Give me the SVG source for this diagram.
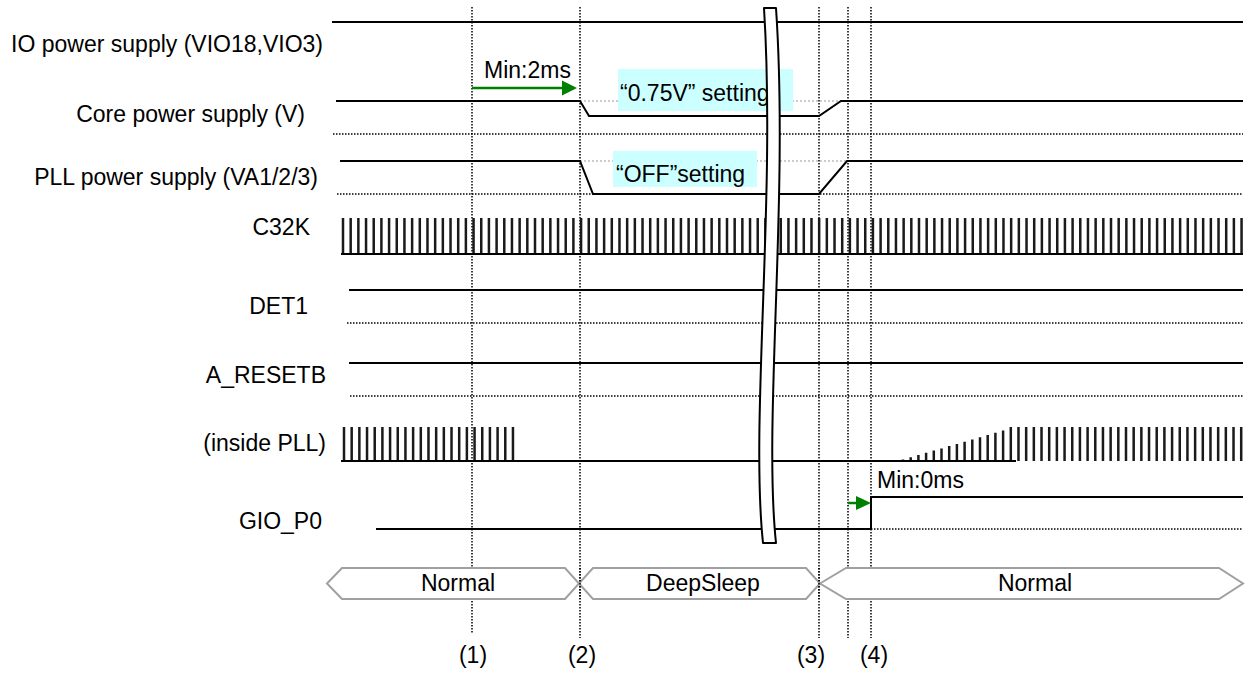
<svg xmlns="http://www.w3.org/2000/svg" xmlns:xlink="http://www.w3.org/1999/xlink" width="1246" height="673" viewBox="0 0 1246 673">
<style>
  .lbl{font-family:"Liberation Sans",Arial,sans-serif;font-size:23px;fill:#000}
  .r{text-anchor:end}
  .m{text-anchor:middle}
  .sig{fill:none;stroke:#000;stroke-width:2}
  .dot{fill:none;stroke:#000;stroke-width:1.5;stroke-dasharray:1.5 1.5}
  .gdot{fill:none;stroke:#999;stroke-width:1;stroke-dasharray:2 2}
  .clk{fill:none;stroke:#1a1a1a;stroke-width:2.5}
  .state{fill:#fff;stroke:#a0a0a0;stroke-width:2}
  .note{fill:#ccffff}
  .arr{fill:none;stroke:#008000;stroke-width:2.5}
</style>
<defs>
  <path id="c10a" d="M0,0v-36m7.68,36v-36m7.68,36v-36m7.68,36v-36m7.68,36v-36m7.68,36v-36m7.68,36v-36m7.68,36v-36m7.68,36v-36m7.68,36v-36"/>
  <path id="c10b" d="M0,0v-34m7.68,34v-34m7.68,34v-34m7.68,34v-34m7.68,34v-34m7.68,34v-34m7.68,34v-34m7.68,34v-34m7.68,34v-34m7.68,34v-34"/>
</defs>
<rect width="1246" height="673" fill="#fff"/>

<g id="markers">
  <path class="dot" d="M472,7V633M580,7V638M819,7V638M848,7V638M871,7V638"/>
  <text class="lbl m" x="473" y="663">(1)</text>
  <text class="lbl m" x="582" y="663">(2)</text>
  <text class="lbl m" x="811" y="663">(3)</text>
  <text class="lbl m" x="874" y="663">(4)</text>
</g>

<g id="io-power">
  <text class="lbl r" x="323" y="52">IO power supply (VIO18,VIO3)</text>
  <path class="sig" d="M332,22H1243"/>
</g>

<g id="core-power">
  <text class="lbl r" x="305" y="122">Core power supply (V)</text>
  <path class="gdot" d="M580,101H841"/>
  <path class="dot" d="M333,134H1243"/>
  <rect class="note" x="618" y="69" width="175" height="42"/>
  <text class="lbl" x="620" y="101">“0.75V” setting</text>
  <path class="sig" d="M336,101H580L589,116H819L841,101H1243"/>
</g>

<g id="pll-power">
  <text class="lbl r" x="318" y="185">PLL power supply (VA1/2/3)</text>
  <path class="gdot" d="M580,161H847"/>
  <path class="dot" d="M337,194H1243"/>
  <rect class="note" x="613" y="151" width="144" height="36"/>
  <text class="lbl" x="616" y="182">“OFF”setting</text>
  <path class="sig" d="M340,161H580L593,194H819L847,161H1243"/>
</g>

<g id="c32k">
  <text class="lbl r" x="310" y="235">C32K</text>
  <g class="clk">
    <use xlink:href="#c10a" x="343" y="254"/>
    <use xlink:href="#c10a" x="419.8" y="254"/>
    <use xlink:href="#c10a" x="496.6" y="254"/>
    <use xlink:href="#c10a" x="573.4" y="254"/>
    <use xlink:href="#c10a" x="650.2" y="254"/>
    <use xlink:href="#c10a" x="727" y="254"/>
    <use xlink:href="#c10a" x="803.8" y="254"/>
    <use xlink:href="#c10a" x="880.6" y="254"/>
    <use xlink:href="#c10a" x="957.4" y="254"/>
    <use xlink:href="#c10a" x="1034.2" y="254"/>
    <use xlink:href="#c10a" x="1111" y="254"/>
    <use xlink:href="#c10a" x="1187.8" y="254"/>
  </g>
  <path class="sig" d="M341,254H1243"/>
</g>

<g id="det1">
  <text class="lbl r" x="308" y="314">DET1</text>
  <path class="sig" d="M349,290H1243"/>
  <path class="dot" d="M347,323H1243"/>
</g>

<g id="a-resetb">
  <text class="lbl r" x="326" y="383">A_RESETB</text>
  <path class="sig" d="M349,363H1243"/>
  <path class="dot" d="M350,396H1243"/>
</g>

<g id="inside-pll">
  <text class="lbl r" x="326" y="451">(inside PLL)</text>
  <g class="clk">
    <use xlink:href="#c10b" x="344" y="461"/>
    <use xlink:href="#c10b" x="420.8" y="461"/>
    <path d="M497.6,461v-34m7.68,34v-34m7.68,34v-34"/>
    <path d="M903,461V459.5M910.7,461V457.3M918.4,461V455M926.1,461V452.8M933.8,461V450.6M941.5,461V448.4M949.2,461V446.1M956.9,461V443.9M964.6,461V441.7M972.3,461V439.4M980,461V437.2M987.7,461V435M995.4,461V432.8M1003.1,461V430.5"/>
    <use xlink:href="#c10b" x="1010.8" y="461"/>
    <use xlink:href="#c10b" x="1087.6" y="461"/>
    <use xlink:href="#c10b" x="1164.4" y="461"/>
    <use xlink:href="#c10b" x="1241.2" y="461"/>
  </g>
  <path class="sig" d="M341,461H1016"/>
</g>

<g id="gio-p0">
  <text class="lbl r" x="322" y="529">GIO_P0</text>
  <path class="dot" d="M871,529H1243"/>
  <path class="sig" d="M376,529H871V497H1243"/>
  <text class="lbl" x="877" y="488">Min:0ms</text>
</g>

<g id="break">
  <path d="M764,8C776,200 750,420 763,543H776C763,420 789,200 776,8Z" fill="#fff" stroke="#000" stroke-width="2" stroke-linejoin="round"/>
</g>

<g id="connectors">
  <path class="arr" d="M472,88H565"/>
  <path d="M577,88L562,80.5V95.5Z" fill="#008000"/>
  <text class="lbl" x="484" y="78">Min:2ms</text>
  <path class="arr" d="M848,503H858"/>
  <path d="M871,503L856,496V510Z" fill="#008000"/>
</g>

<g id="states">
  <g id="state-normal-1">
    <polygon class="state" points="327,583.5 342,568 565,568 579,583.5 565,599 342,599"/>
    <text class="lbl m" x="458" y="591">Normal</text>
  </g>
  <g id="state-deepsleep">
    <polygon class="state" points="579,583.5 593,568 806,568 820,583.5 806,599 593,599"/>
    <text class="lbl m" x="703" y="591">DeepSleep</text>
  </g>
  <g id="state-normal-2">
    <polygon class="state" points="820,583.5 846,568 1219,568 1243,583.5 1219,599 846,599"/>
    <text class="lbl m" x="1035" y="591">Normal</text>
  </g>
  <path class="dot" d="M580,568V599M819,568V599"/>
</g>
</svg>
